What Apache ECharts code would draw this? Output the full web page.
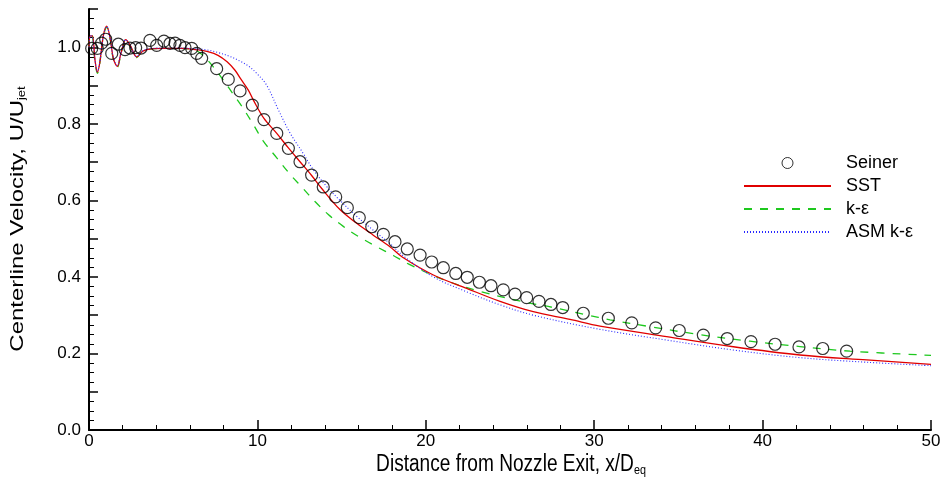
<!DOCTYPE html>
<html><head><meta charset="utf-8">
<script src="https://cdn.jsdelivr.net/npm/echarts@6/dist/echarts.min.js"></script>
<style>html,body{margin:0;padding:0;background:#fff}#c{width:944px;height:482px}</style>
</head><body><div id="c"></div>
<script>
// Seiner experimental data
const seinerX = [0.16,0.49,0.75,0.99,1.35,1.74,2.14,2.43,2.77,3.09,3.62,4.02,4.45,4.81,5.11,5.40,5.70,6.10,6.40,6.69,7.58,8.27,8.97,9.70,10.39,11.15,11.84,12.53,13.22,13.91,14.65,15.34,16.05,16.79,17.48,18.17,18.90,19.66,20.35,21.04,21.78,22.46,23.18,23.87,24.60,25.30,25.99,26.72,27.43,28.13,29.35,30.84,32.23,33.65,35.05,36.48,37.90,39.31,40.74,42.16,43.57,44.99];
const seinerY = [0.997,0.997,1.011,1.021,0.984,1.008,0.994,0.998,0.999,0.998,1.018,1.005,1.016,1.010,1.011,1.005,0.999,0.997,0.984,0.971,0.944,0.916,0.886,0.849,0.811,0.775,0.736,0.701,0.666,0.635,0.609,0.581,0.555,0.531,0.511,0.492,0.473,0.457,0.439,0.424,0.409,0.399,0.386,0.377,0.366,0.355,0.346,0.336,0.328,0.320,0.305,0.292,0.280,0.267,0.260,0.248,0.239,0.231,0.224,0.217,0.213,0.206];
// SST
const sstX = [0,0.08,0.2,0.36,0.5,0.64,0.85,1.05,1.25,1.45,1.68,1.9,2.18,2.45,2.83,3.2,3.7,4.5,5.5,6.5,7.0,7.66,8.2,8.67,9.0,9.46,9.76,10.39,11.15,11.84,12.53,13.22,13.82,14.9,15.9,16.88,17.87,18.6,20.45,22.43,24.41,26.38,28.56,30.34,34.3,38.26,42.22,46.18,50];
const sstY = [1.0,1.03,1.03,0.965,0.935,0.96,1.03,1.055,1.025,0.97,0.95,0.985,1.02,1.005,0.975,0.99,0.996,0.997,0.997,0.993,0.989,0.979,0.962,0.94,0.918,0.888,0.862,0.814,0.775,0.737,0.701,0.665,0.631,0.576,0.540,0.509,0.479,0.452,0.405,0.370,0.336,0.309,0.289,0.2715,0.244,0.2175,0.196,0.183,0.1715];
// k-epsilon
const keX = [0,0.08,0.2,0.36,0.5,0.64,0.85,1.05,1.25,1.45,1.68,1.9,2.18,2.45,2.83,3.2,3.7,4.5,5.4,6.2,6.69,7.38,7.98,8.57,9.16,9.76,10.35,11.15,11.94,12.63,13.42,14.21,15.1,15.99,17.08,18.07,18.96,21.04,23.22,25.79,27.57,29.55,30.94,33.31,36.28,39.25,42.22,45.19,50];
const keY = [1.0,1.035,1.03,0.96,0.932,0.958,1.028,1.052,1.022,0.968,0.948,0.983,1.018,1.003,0.973,0.99,0.996,0.997,0.997,0.994,0.982,0.949,0.914,0.877,0.840,0.798,0.755,0.711,0.668,0.635,0.597,0.563,0.532,0.506,0.479,0.456,0.434,0.393,0.362,0.335,0.320,0.301,0.288,0.270,0.249,0.232,0.218,0.206,0.195];
// ASM k-epsilon
const asmX = [0,0.08,0.2,0.36,0.5,0.64,0.85,1.05,1.25,1.45,1.68,1.9,2.18,2.45,2.83,3.2,3.7,4.5,5.5,6.3,7.0,7.68,8.37,9.0,9.5,10.0,10.55,11.25,11.94,12.73,13.32,14.12,14.9,15.9,16.88,17.87,18.66,20.45,22.43,24.41,26.38,30.34,34.3,38.26,42.22,46.18,50];
const asmY = [1.0,1.03,1.028,0.965,0.937,0.962,1.03,1.054,1.024,0.972,0.952,0.986,1.02,1.004,0.976,0.991,0.997,0.998,0.998,0.996,0.993,0.986,0.976,0.963,0.950,0.930,0.901,0.836,0.776,0.722,0.680,0.636,0.600,0.558,0.522,0.487,0.455,0.400,0.361,0.327,0.300,0.263,0.235,0.209,0.189,0.177,0.168];
const yLabels = ['0.0','0.2','0.4','0.6','0.8','1.0'];
const xTitle = 'Distance from Nozzle Exit, x/D{sub|eq}';
const yTitle = 'Centerline Velocity, U/U{sub|jet}';

const zip = (xs, ys) => xs.map((x, i) => [x, ys[i]]);
const font = 'Liberation Sans, Arial, Helvetica, sans-serif';
const subStyle = {fontSize: 13, verticalAlign: 'bottom', padding: [11, 0, 0, 0], fontFamily: font, fill: '#000'};
const chart = echarts.init(document.getElementById('c'), null, {renderer: 'canvas'});
chart.setOption({
  animation: false,
  backgroundColor: '#fff',
  grid: {left: 89, right: 13, top: 9, bottom: 52},
  graphic: [
    {type: 'text', x: 511, y: 465, scaleX: 0.83, silent: true,
     style: {text: xTitle, fontFamily: font, fontSize: 23, fill: '#000', align: 'center', verticalAlign: 'middle', rich: {sub: subStyle}}},
    {type: 'text', x: 18, y: 219, rotation: Math.PI / 2, scaleY: 0.8, silent: true,
     style: {text: yTitle, fontFamily: font, fontSize: 24, fill: '#000', align: 'center', verticalAlign: 'middle', rich: {sub: subStyle}}}
  ],
  legend: {
    orient: 'vertical', left: 738, top: 149, itemWidth: 87, itemHeight: 11, itemGap: 5,
    textStyle: {fontFamily: font, fontSize: 18, color: '#000', padding: [0, 0, 0, 10]},
    data: [
      {name: 'Seiner', itemStyle: {color: 'rgba(255,255,255,0)', borderColor: '#000', borderWidth: 1}},
      {name: 'SST', itemStyle: {opacity: 0}},
      {name: 'k-\u03b5', itemStyle: {opacity: 0}},
      {name: 'ASM k-\u03b5', itemStyle: {opacity: 0}}
    ]
  },
  xAxis: {
    type: 'value', min: 0, max: 50, interval: 10,
    axisLine: {show: true, onZero: false, lineStyle: {color: '#000', width: 2}},
    axisTick: {show: true, inside: true, length: 10, lineStyle: {color: '#000', width: 1.5}},
    minorTick: {show: true, splitNumber: 5, length: 5, lineStyle: {color: '#000', width: 1}},
    axisLabel: {fontFamily: font, fontSize: 17, color: '#000', margin: 3},
    splitLine: {show: false}
  },
  yAxis: {
    type: 'value', min: 0, max: 1.1, interval: 0.1,
    axisLine: {show: true, onZero: false, lineStyle: {color: '#000', width: 2}},
    axisTick: {show: true, inside: true, length: 9, lineStyle: {color: '#000', width: 1.5}},
    minorTick: {show: true, splitNumber: 4, length: 5, lineStyle: {color: '#000', width: 1}},
    axisLabel: {fontFamily: font, fontSize: 17, color: '#000', margin: 8,
      formatter: v => { const k = Math.round(v * 10); return k % 2 === 0 && k <= 10 ? yLabels[k / 2] : ''; }},
    splitLine: {show: false}
  },
  series: [
    {name: 'Seiner', type: 'scatter', data: zip(seinerX, seinerY), symbol: 'circle', symbolSize: 12, z: 5,
     itemStyle: {color: 'rgba(255,255,255,0)', borderColor: '#000', borderWidth: 1.2}},
    {name: 'SST', type: 'line', data: zip(sstX, sstY), symbol: 'none', smooth: 0.35, z: 3,
     lineStyle: {color: '#e00000', width: 1.3}, itemStyle: {color: '#e00000'}},
    {name: 'k-\u03b5', type: 'line', data: zip(keX, keY), symbol: 'none', smooth: 0.35, z: 2,
     lineStyle: {color: '#1ec81e', width: 1.3, type: [8, 8]}, itemStyle: {color: '#1ec81e'}},
    {name: 'ASM k-\u03b5', type: 'line', data: zip(asmX, asmY), symbol: 'none', smooth: 0.35, z: 4,
     lineStyle: {color: '#2a2aff', width: 1.1, type: [1, 2]}, itemStyle: {color: '#2a2aff'}}
  ]
});
</script></body></html>
